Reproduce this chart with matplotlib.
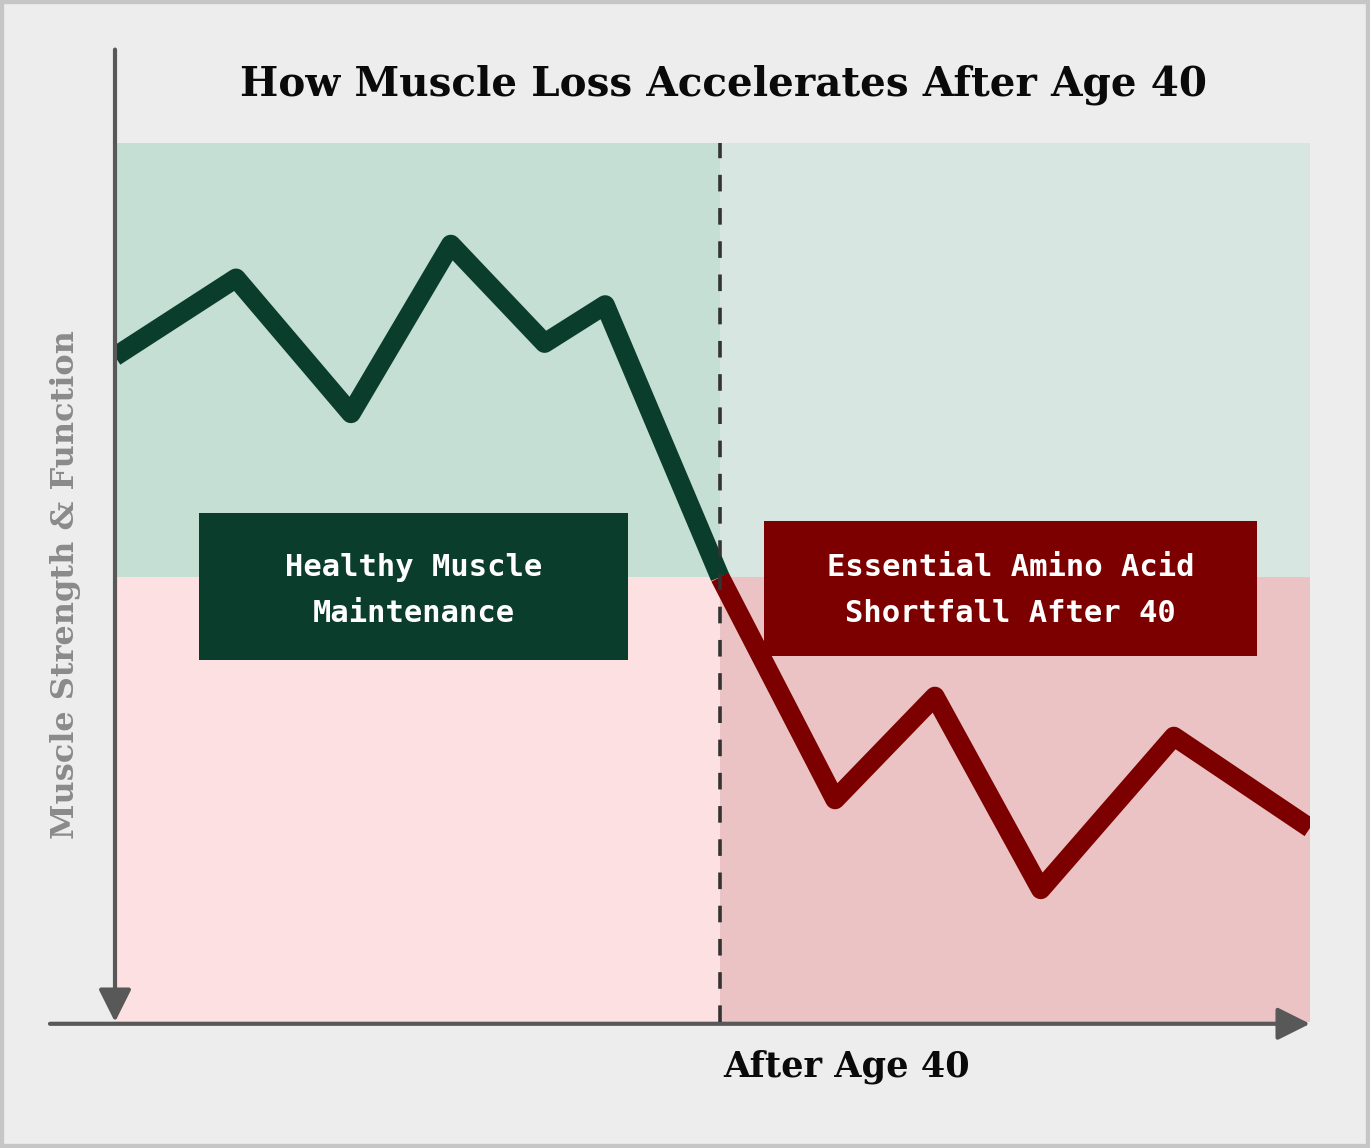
import matplotlib
matplotlib.use("Agg")
import matplotlib.pyplot as plt
from matplotlib.patches import Rectangle

# age (years) vs muscle strength score
ages = [20.0, 24.0, 27.8, 31.1, 34.2, 36.2, 40.0, 43.8, 47.1, 50.6, 55.0, 59.5]
strength = [74.8, 83.6, 68.4, 87.4, 76.3, 80.6, 50.0, 25.0, 36.6, 14.9, 32.1, 21.8]
split_age = 40.0
split_level = 50.0

title = "How Muscle Loss Accelerates After Age 40"
ylabel = "Muscle Strength & Function"
xlabel = "After Age 40"
left_box = "Healthy Muscle\nMaintenance"
right_box = "Essential Amino Acid\nShortfall After 40"

GREEN = "#0b3d2c"
RED = "#7d0000"
AXIS = "#585858"

fig = plt.figure(figsize=(13.7, 11.48), dpi=100)
fig.patch.set_facecolor("#ededed")
fig.patches.append(Rectangle((0, 0), 1, 1, transform=fig.transFigure, fill=False,
                             edgecolor="#c6c6c6", linewidth=6))

W, H = 1370, 1148
ax = fig.add_axes([115 / W, (H - 1022) / H, 1195 / W, 879 / H])
ax.set_xlim(20, 59.5)
ax.set_ylim(0, 98.8)
ax.axis("off")

x0, x1 = ax.get_xlim()
y0, y1 = ax.get_ylim()

# background zones
ax.add_patch(Rectangle((x0, split_level), split_age - x0, y1 - split_level, color="#c5dfd5", lw=0, zorder=0))
ax.add_patch(Rectangle((split_age, split_level), x1 - split_age, y1 - split_level, color="#d7e6e0", lw=0, zorder=0))
ax.add_patch(Rectangle((x0, y0), split_age - x0, split_level - y0, color="#fde0e1", lw=0, zorder=0))
ax.add_patch(Rectangle((split_age, y0), x1 - split_age, split_level - y0, color="#ecc3c4", lw=0, zorder=0))

# the curve, green before 40 and red after
k = ages.index(split_age)
ax.plot(ages[:k + 1], strength[:k + 1], color=GREEN, lw=14, solid_joinstyle="round",
        solid_capstyle="butt", zorder=3)
ax.plot(ages[k:], strength[k:], color=RED, lw=14, solid_joinstyle="round",
        solid_capstyle="butt", zorder=3)

# divider, drawn over the curve
ax.axvline(split_age, color="#333333", lw=2.6, dashes=(4.6, 4.6), zorder=3.5)

# axes arrows
arrow = dict(arrowstyle="-|>,head_length=0.8,head_width=0.4", color=AXIS,
             lw=3, mutation_scale=25, shrinkA=0, shrinkB=0)
ax.annotate("", xy=(x0, y0), xytext=(x0, 109.3), annotation_clip=False, arrowprops=arrow)
ax.annotate("", xy=(x1, -0.2), xytext=(17.85, -0.2), annotation_clip=False, arrowprops=arrow)

# label boxes
ax.add_patch(Rectangle((22.78, 40.7), 14.18, 16.5, color=GREEN, lw=0, zorder=4))
ax.add_patch(Rectangle((41.45, 41.1), 16.3, 15.2, color=RED, lw=0, zorder=4))
mono = dict(family="DejaVu Sans Mono", fontweight="bold", color="white", fontsize=22,
            ha="center", va="center", linespacing=1.74, zorder=5)
ax.text(29.87, 48.5, left_box, **mono)
ax.text(49.6, 48.5, right_box, **mono)

serif = "DejaVu Serif"
fig.text(724 / W, 1 - 85 / H, title, family=serif, fontweight="bold", fontsize=29.2,
         ha="center", va="center", color="#0a0a0a")
fig.text(723 / W, 1 - 1067 / H, xlabel, family=serif, fontweight="bold", fontsize=25.3,
         ha="left", va="center", color="#0a0a0a")
fig.text(66 / W, 1 - 585 / H, ylabel, family=serif, fontweight="bold", fontsize=23,
         ha="center", va="center", rotation=90, color="#8a8a8a")

fig.savefig("out.png", dpi=100, facecolor=fig.get_facecolor())
